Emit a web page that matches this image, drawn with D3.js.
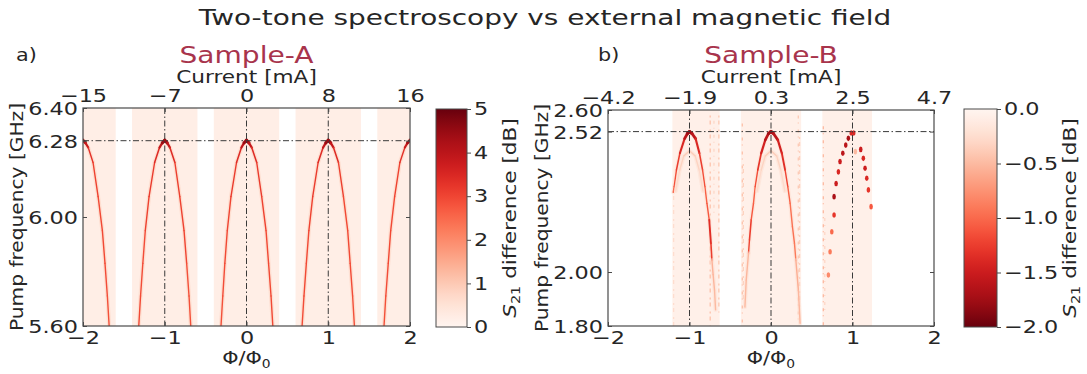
<!DOCTYPE html>
<html>
<head>
<meta charset="utf-8">
<script src="https://cdn.jsdelivr.net/npm/d3@7"></script>
<style>
  html, body { margin: 0; padding: 0; background: #fff; }
  svg text { font-family: "DejaVu Sans", sans-serif; fill: #262626; }
</style>
</head>
<body>
<svg id="chart" width="1087" height="374"></svg>
<script>
// ---------- data ----------
const title = "Two-tone spectroscopy vs external magnetic field";
const fluxTicks = [-2, -1, 0, 1, 2];
const fluxTickLabels = ["\u22122", "\u22121", "0", "1", "2"];

// Sample-A
const currentTicksA = ["\u221215", "\u22127", "0", "8", "16"];
const freqTicksA = [5.60, 6.00, 6.28, 6.40];
const sweetSpotA = 6.28;
const bandsA = [[-2.0, -1.6], [-1.4, -0.6], [-0.4, 0.4], [0.6, 1.4], [1.6, 2.0]];
const bandLevelA = 0.2;
const cbarTicksA = [0, 1, 2, 3, 4, 5];

// resonance branches (flux, pump frequency GHz, S21 difference dB)
const arcA0 = {
  phi:  [-2.000, -1.970, -1.936, -1.877, -1.815, -1.763, -1.731, -1.702, -1.680],
  freq: [6.282, 6.272, 6.255, 6.200, 6.075, 5.950, 5.830, 5.710, 5.600],
  val:  [4.6, 4.1, 3.5, 3.1, 3.0, 2.9, 3.0, 2.8, 2.9]
};
const arcA1 = {
  phi:  [-1.318, -1.296, -1.268, -1.238, -1.192, -1.124, -1.064, -1.030, -1.000, -0.970, -0.937, -0.876, -0.816, -0.764, -0.732, -0.703, -0.682],
  freq: [5.600, 5.710, 5.830, 5.950, 6.075, 6.200, 6.255, 6.272, 6.282, 6.272, 6.255, 6.200, 6.075, 5.950, 5.830, 5.710, 5.600],
  val:  [2.9, 3.0, 2.8, 3.0, 3.1, 3.2, 3.6, 4.2, 4.7, 4.2, 3.6, 3.2, 3.0, 3.1, 2.9, 2.8, 2.9]
};
const arcA2 = {
  phi:  [-0.312, -0.290, -0.265, -0.235, -0.190, -0.122, -0.062, -0.030, 0.000, 0.030, 0.064, 0.125, 0.186, 0.239, 0.270, 0.300, 0.322],
  freq: [5.600, 5.710, 5.830, 5.950, 6.075, 6.200, 6.255, 6.272, 6.282, 6.272, 6.255, 6.200, 6.075, 5.950, 5.830, 5.710, 5.600],
  val:  [2.9, 2.8, 3.0, 2.9, 3.1, 3.2, 3.6, 4.2, 4.7, 4.2, 3.6, 3.2, 3.1, 3.0, 2.9, 3.0, 2.9]
};
const arcA3 = {
  phi:  [0.680, 0.703, 0.732, 0.763, 0.810, 0.876, 0.937, 0.970, 1.000, 1.030, 1.064, 1.125, 1.186, 1.238, 1.268, 1.298, 1.320],
  freq: [5.600, 5.710, 5.830, 5.950, 6.075, 6.200, 6.255, 6.272, 6.282, 6.272, 6.255, 6.200, 6.075, 5.950, 5.830, 5.710, 5.600],
  val:  [2.8, 3.0, 2.9, 3.0, 3.1, 3.2, 3.6, 4.2, 4.7, 4.2, 3.6, 3.2, 3.0, 2.9, 3.0, 2.8, 2.9]
};
const arcA4 = {
  phi:  [1.682, 1.704, 1.734, 1.764, 1.812, 1.876, 1.937, 1.970, 2.000],
  freq: [5.600, 5.710, 5.830, 5.950, 6.075, 6.200, 6.255, 6.272, 6.282],
  val:  [2.9, 2.8, 3.0, 2.9, 3.0, 3.1, 3.5, 4.1, 4.6]
};

// Sample-B
const currentTicksB = ["\u22124.2", "\u22121.9", "0.3", "2.5", "4.7"];
const freqTicksB = [1.80, 2.00, 2.52, 2.60];
const sweetSpotB = 2.52;
const bandsB = [[-1.21, -0.63], [-0.37, 0.37], [0.63, 1.24]];
const bandLevelB = -0.06;
const cbarTicksB = [0.0, -0.5, -1.0, -1.5, -2.0];

const arcB1 = {
  phi:  [-1.200, -1.188, -1.160, -1.118, -1.060, -1.025, -1.000, -0.970, -0.925, -0.878, -0.840, -0.811, -0.786, -0.758, -0.737, -0.725],
  freq: [2.295, 2.316, 2.378, 2.440, 2.494, 2.513, 2.520, 2.513, 2.494, 2.440, 2.378, 2.316, 2.254, 2.193, 2.106, 2.044],
  val:  [-1.0, -1.1, -1.2, -1.3, -1.5, -1.7, -1.8, -1.7, -1.5, -1.3, -1.2, -1.1, -1.0, -1.2, -1.5, -1.0]
};
const arcB1tail = {
  phi:  [-0.725, -0.710, -0.693, -0.680],
  freq: [2.044, 1.990, 1.933, 1.860],
  val:  [-0.6, -0.5, -0.55, -0.45]
};
const arcB2 = {
  phi:  [-0.276, -0.264, -0.243, -0.215, -0.194, -0.162, -0.120, -0.070, -0.030, 0.000, 0.030, 0.084, 0.133, 0.173, 0.206, 0.235, 0.263, 0.288, 0.305],
  freq: [2.069, 2.119, 2.193, 2.254, 2.316, 2.378, 2.440, 2.489, 2.513, 2.520, 2.513, 2.489, 2.440, 2.378, 2.316, 2.254, 2.168, 2.106, 2.044],
  val:  [-1.1, -1.3, -1.2, -1.0, -1.1, -1.2, -1.4, -1.5, -1.7, -1.8, -1.7, -1.5, -1.4, -1.3, -1.1, -1.0, -0.9, -1.0, -0.8]
};
const arcB2tail = {
  phi:  [-0.276, -0.304, -0.320],
  freq: [2.069, 1.970, 1.870],
  val:  [-0.5, -0.55, -0.45]
};
const arcB2tailR = {
  phi:  [0.305, 0.336, 0.357],
  freq: [2.044, 1.933, 1.810],
  val:  [-0.55, -0.6, -0.45]
};
// faint replica below each main branch
const innerB1 = {
  phi:  [-1.170, -1.120, -1.070, -1.000, -0.930, -0.880, -0.835],
  freq: [2.300, 2.378, 2.430, 2.449, 2.430, 2.378, 2.300],
  val:  [-0.25, -0.3, -0.35, -0.4, -0.35, -0.3, -0.25]
};
const innerB2 = {
  phi:  [-0.170, -0.120, -0.070, 0.000, 0.070, 0.120, 0.170],
  freq: [2.300, 2.378, 2.430, 2.449, 2.430, 2.378, 2.300],
  val:  [-0.25, -0.3, -0.35, -0.4, -0.35, -0.3, -0.25]
};
// point-like response around the third sweet spot
const dotsB3 = {
  phi:  [0.985, 1.015, 0.949, 0.917, 0.881, 0.847, 0.827, 0.799, 0.774, 0.774, 0.746, 0.725, 0.704, 1.101, 1.133, 1.154, 1.175, 1.195, 1.228, 1.035],
  freq: [2.515, 2.515, 2.495, 2.470, 2.440, 2.409, 2.371, 2.328, 2.279, 2.211, 2.149, 2.075, 1.989, 2.454, 2.421, 2.384, 2.347, 2.304, 2.242, 2.446],
  val:  [-1.4, -1.4, -1.7, -1.6, -1.6, -1.5, -1.4, -1.5, -1.7, -1.3, -1.0, -0.9, -0.8, -1.5, -1.4, -1.5, -1.4, -1.3, -1.1, -0.5]
};
// spurious vertical streaks in the Sample-B sweeps
const streakPhi  = [-0.746, -0.700, -0.640, -0.352, -0.340, 0.335, 0.350, 0.642, -1.195, 0.660];
const streakTop  = [2.58, 2.56, 2.58, 2.55, 2.40, 2.58, 2.50, 2.54, 2.30, 2.20];
const streakBot  = [1.80, 2.20, 1.85, 1.80, 1.90, 1.82, 1.86, 1.80, 1.80, 1.85];
const streakVal  = [-0.45, -0.3, -0.4, -0.45, -0.35, -0.4, -0.35, -0.5, -0.25, -0.3];

// ---------- drawing ----------
const svg = d3.select("#chart");
const ink = "#262626";
const spine = "#4a4a4a";
const accent = "#a8344c";

// the wide geometric face is approximated by stretching glyphs horizontally
function widen(sel, k) {
  sel.each(function () {
    const w = this.getComputedTextLength();
    d3.select(this).attr("textLength", w * k).attr("lengthAdjust", "spacingAndGlyphs");
  });
  return sel;
}

svg.append("text").attr("x", 545).attr("y", 25).attr("text-anchor", "middle")
  .attr("font-size", 21).text(title).call(widen, 1.33);

function zip(a) { return a.phi.map((p, i) => ({ phi: p, f: a.freq[i], v: a.val[i] })); }

function panel(cfg) {
  const x = d3.scaleLinear().domain([-2, 2]).range([cfg.x0, cfg.x1]);
  const y = d3.scaleLinear().domain(cfg.yDomain).range([cfg.y1, cfg.y0]);
  const g = svg.append("g");
  const clipId = "clip" + cfg.key;
  svg.append("clipPath").attr("id", clipId).append("rect")
    .attr("x", cfg.x0).attr("y", cfg.y0).attr("width", cfg.x1 - cfg.x0).attr("height", cfg.y1 - cfg.y0);
  const plot = g.append("g").attr("clip-path", `url(#${clipId})`);

  // measured flux windows
  plot.selectAll("rect.band").data(cfg.bands).join("rect")
    .attr("x", d => x(d[0])).attr("width", d => x(d[1]) - x(d[0]))
    .attr("y", cfg.y0).attr("height", cfg.y1 - cfg.y0)
    .attr("fill", cfg.color(cfg.bandLevel));

  // streaks
  if (cfg.streaks) {
    const s = cfg.streaks;
    s.phi.forEach((p, i) => {
      plot.append("line").attr("x1", x(p)).attr("x2", x(p))
        .attr("y1", y(s.top[i])).attr("y2", y(s.bot[i]))
        .attr("stroke", cfg.color(s.val[i])).attr("stroke-width", 1.3)
        .attr("stroke-dasharray", i % 2 ? "3,4,1,6" : "2,3,4,5");
    });
  }

  // resonance branches
  const wScale = d3.scaleLinear().domain(cfg.widthDomain).range([1.4, 3.4]).clamp(true);
  cfg.arcs.forEach(a => {
    const pts = zip(a);
    plot.append("path").datum(pts)
      .attr("d", d3.line().x(d => x(d.phi)).y(d => y(d.f)))
      .attr("fill", "none").attr("stroke", cfg.color(cfg.haloLevel)).attr("stroke-width", 4)
      .attr("stroke-linecap", "round").attr("opacity", 0.5);
    for (let i = 0; i < pts.length - 1; i++) {
      const mv = (pts[i].v + pts[i + 1].v) / 2;
      plot.append("line")
        .attr("x1", x(pts[i].phi)).attr("y1", y(pts[i].f))
        .attr("x2", x(pts[i + 1].phi)).attr("y2", y(pts[i + 1].f))
        .attr("stroke", cfg.color(mv)).attr("stroke-width", wScale(mv))
        .attr("stroke-linecap", "round");
    }
  });
  if (cfg.dots) {
    plot.selectAll("ellipse.dot").data(zip(cfg.dots)).join("ellipse")
      .attr("cx", d => x(d.phi)).attr("cy", d => y(d.f)).attr("rx", 1.8).attr("ry", 2.8)
      .attr("fill", d => cfg.color(d.v));
  }

  // reference lines
  const dash = "6,2.5,1.5,2.5";
  g.selectAll("line.vref").data([-1, 0, 1]).join("line")
    .attr("x1", d => x(d)).attr("x2", d => x(d)).attr("y1", cfg.y0).attr("y2", cfg.y1)
    .attr("stroke", "#3a3a3a").attr("stroke-width", 1).attr("stroke-dasharray", dash);
  g.append("line").attr("x1", cfg.x0).attr("x2", cfg.x1)
    .attr("y1", y(cfg.sweet)).attr("y2", y(cfg.sweet))
    .attr("stroke", "#3a3a3a").attr("stroke-width", 1).attr("stroke-dasharray", dash);

  // axes (ticks point inward)
  const tickLen = 4;
  const fs = 18;
  const tw = 1.24;
  const bottom = d3.axisBottom(x).tickValues(fluxTicks).tickFormat((d, i) => fluxTickLabels[i]).tickSize(-tickLen).tickPadding(5);
  const top = d3.axisTop(x).tickValues(fluxTicks).tickFormat((d, i) => cfg.currentTicks[i]).tickSize(-tickLen).tickPadding(6);
  const left = d3.axisLeft(y).tickValues(cfg.freqTicks).tickFormat(d3.format(".2f")).tickSize(-tickLen).tickPadding(5);
  const right = d3.axisRight(y).tickValues(cfg.freqTicks).tickFormat("").tickSize(-tickLen);
  const styleAxis = sel => {
    sel.selectAll("path.domain").remove();
    sel.selectAll("line").attr("stroke", spine);
    sel.selectAll("text").attr("font-size", fs).attr("fill", ink).style("font-family", "DejaVu Sans").call(widen, tw);
  };
  g.append("g").attr("transform", `translate(0,${cfg.y1})`).call(bottom).call(styleAxis);
  g.append("g").attr("transform", `translate(0,${cfg.y0})`).call(top).call(styleAxis);
  g.append("g").attr("transform", `translate(${cfg.x0},0)`).call(left).call(styleAxis)
    .selectAll("text").attr("dy", "0.36em");
  g.append("g").attr("transform", `translate(${cfg.x1},0)`).call(right).call(styleAxis);
  g.append("rect").attr("x", cfg.x0).attr("y", cfg.y0).attr("width", cfg.x1 - cfg.x0).attr("height", cfg.y1 - cfg.y0)
    .attr("fill", "none").attr("stroke", spine).attr("stroke-width", 1.2);

  const cx = (cfg.x0 + cfg.x1) / 2;
  const cy = (cfg.y0 + cfg.y1) / 2;
  // axis titles
  const xl = g.append("text").attr("x", cx).attr("y", 364).attr("text-anchor", "middle").attr("font-size", fs);
  xl.append("tspan").text("\u03A6/\u03A6");
  xl.append("tspan").attr("font-size", 12).attr("dy", 4).text("0");
  xl.call(widen, 1.15);
  g.append("text").attr("x", cx).attr("y", 83).attr("text-anchor", "middle").attr("font-size", fs)
    .text("Current [mA]").call(widen, 1.2);
  g.append("text").attr("transform", `translate(${cfg.yLabelX},${cy}) rotate(-90)`)
    .attr("text-anchor", "middle").attr("font-size", fs).text("Pump frequency [GHz]").call(widen, 1.12);
  g.append("text").attr("x", cx).attr("y", 63).attr("text-anchor", "middle").attr("font-size", 23)
    .style("fill", accent).text(cfg.sample).call(widen, 1.22);
  g.append("text").attr("x", cfg.tagX).attr("y", 61).attr("font-size", 18).text(cfg.tag).call(widen, 1.15);

  // colour bar
  const cb = cfg.cbar;
  const gradId = "grad" + cfg.key;
  const grad = svg.append("defs").append("linearGradient").attr("id", gradId)
    .attr("x1", 0).attr("x2", 0).attr("y1", 1).attr("y2", 0);
  const cDom = cfg.color.domain();
  d3.range(0, 1.0001, 0.05).forEach(t => {
    grad.append("stop").attr("offset", t).attr("stop-color", cfg.color(cDom[0] + t * (cDom[1] - cDom[0])));
  });
  const cy0 = 109, cy1 = 327;
  const cyScale = d3.scaleLinear().domain(cDom).range([cy1, cy0]);
  g.append("rect").attr("x", cb.x).attr("y", cy0).attr("width", cb.w).attr("height", cy1 - cy0)
    .attr("fill", `url(#${gradId})`).attr("stroke", spine).attr("stroke-width", 1);
  const cAxis = d3.axisRight(cyScale).tickValues(cb.ticks).tickFormat(cb.fmt).tickSize(4).tickPadding(3);
  g.append("g").attr("transform", `translate(${cb.x + cb.w},0)`).call(cAxis).call(styleAxis);
  const cl = g.append("text").attr("transform", `translate(${cb.labelX},${(cy0 + cy1) / 2}) rotate(-90)`)
    .attr("text-anchor", "middle").attr("font-size", fs);
  cl.append("tspan").attr("font-style", "italic").text("S");
  cl.append("tspan").attr("font-size", 12).attr("dy", 4).text("21");
  cl.append("tspan").attr("dy", -4).text(" difference [dB]");
  cl.call(widen, 1.2);
}

const colorA = d3.scaleSequential(d3.interpolateReds).domain([0, 5]);
const colorB = d3.scaleSequential(t => d3.interpolateReds(1 - t)).domain([-2, 0]);

panel({
  key: "A", x0: 83, x1: 410, y0: 108, y1: 326, yDomain: [5.6, 6.4],
  bands: bandsA, bandLevel: bandLevelA, color: colorA, haloLevel: 0.9, widthDomain: [3.3, 4.7],
  arcs: [arcA0, arcA1, arcA2, arcA3, arcA4],
  sweet: sweetSpotA, freqTicks: freqTicksA, currentTicks: currentTicksA,
  yLabelX: 23, sample: "Sample-A", tag: "a)", tagX: 16,
  cbar: { x: 436, w: 31, ticks: cbarTicksA, fmt: d3.format("d"), labelX: 516 }
});
panel({
  key: "B", x0: 608, x1: 934, y0: 110, y1: 326, yDomain: [1.8, 2.6],
  bands: bandsB, bandLevel: bandLevelB, color: colorB, haloLevel: -0.25, widthDomain: [-1.2, -1.8],
  arcs: [arcB1, arcB1tail, arcB2, arcB2tail, arcB2tailR, innerB1, innerB2],
  dots: dotsB3,
  streaks: { phi: streakPhi, top: streakTop, bot: streakBot, val: streakVal },
  sweet: sweetSpotB, freqTicks: freqTicksB, currentTicks: currentTicksB,
  yLabelX: 548, sample: "Sample-B", tag: "b)", tagX: 598,
  cbar: { x: 964, w: 33, ticks: cbarTicksB, fmt: d3.format(".1f"), labelX: 1076 }
});
</script>
</body>
</html>
